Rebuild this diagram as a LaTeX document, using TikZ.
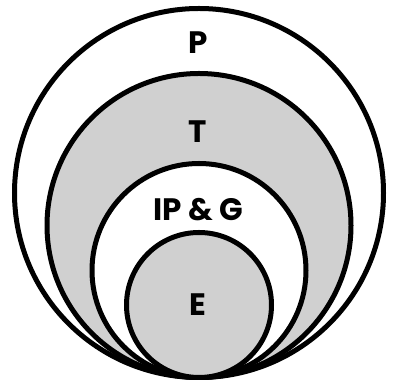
\documentclass[tikz,border=0pt]{standalone}
\usepackage{fontspec}
\newfontfamily\lblfont{Poppins}
\usetikzlibrary{positioning}
\definecolor{RingGray}{RGB}{208,208,208}

\begin{document}
\begin{tikzpicture}[x=1pt,y=1pt,
    ring/.style={circle,draw=black,line width=5pt,inner sep=0pt,outer sep=0pt,anchor=south},
    lbl/.style={font=\lblfont\bfseries\fontsize{31}{31}\selectfont,inner sep=0pt}]
    \useasboundingbox (0,0) rectangle (420,387);
    \coordinate (tan) at (199,9.5);
    \node[ring,fill=white,minimum size=369pt] (p) at (tan) {};
    \node[ring,fill=RingGray,minimum size=304pt] (t) at (tan) {};
    \node[ring,fill=white,minimum size=214pt] (ipg) at (tan) {};
    \node[ring,fill=RingGray,minimum size=145pt] (e) at (tan) {};
    \node[lbl] (pl) at (198,344) {P};
    \node[lbl] (tl) at (198,255) {T};
    \node[lbl] (ipgl) at (198,177) {IP \& G};
    \node[lbl] (el) at (198,82) {E};
\end{tikzpicture}
\end{document}
